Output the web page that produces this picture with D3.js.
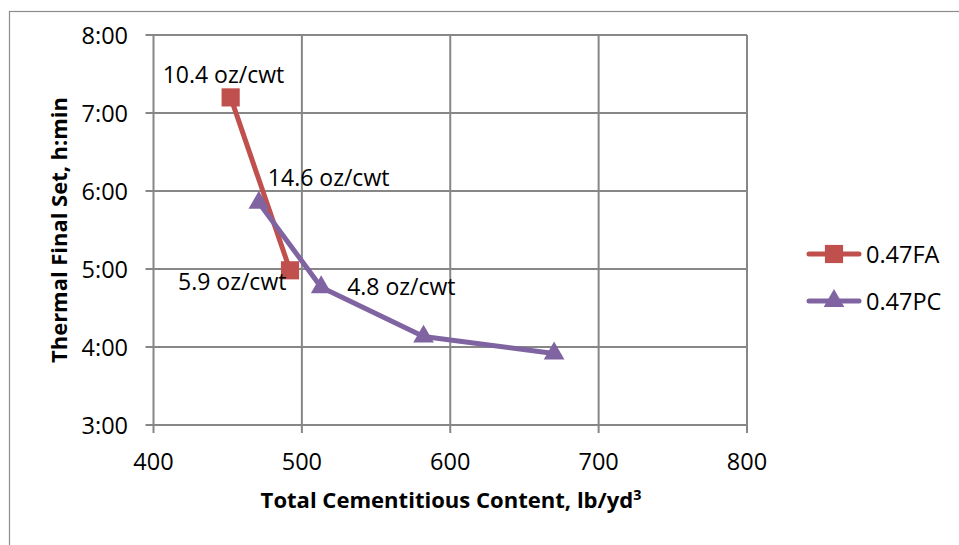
<!DOCTYPE html>
<html><head><meta charset="utf-8">
<script src="https://cdn.jsdelivr.net/npm/d3@7"></script>
<style>body{margin:0;background:#fff}svg{display:block}text{font-family:"Open Sans",sans-serif;fill:#000}</style>
</head><body><svg id="c" width="959" height="545"></svg>
<script>
const xTicks = [400, 500, 600, 700, 800];
const yTicks = ["3:00", "4:00", "5:00", "6:00", "7:00", "8:00"];
const faX = [452, 492];
const faY = ["7:12", "4:59"];
const pcX = [471, 513, 582, 670];
const pcY = ["5:51", "4:46", "4:08", "3:55"];
const seriesNames = ["0.47FA", "0.47PC"];
const labelTexts = ["10.4 oz/cwt", "5.9 oz/cwt", "14.6 oz/cwt", "4.8 oz/cwt"];

const toH = s => { const [h, m] = s.split(":").map(Number); return h + m / 60; };
const svg = d3.select("#c");
const x = d3.scaleLinear().domain([400, 800]).range([153.5, 747]);
const y = d3.scaleLinear().domain([3, 8]).range([425, 35]);

function fit(sel, w) {
  const fs = parseFloat(sel.attr("font-size"));
  const len = sel.node().getComputedTextLength();
  sel.attr("font-size", fs * w / len);
}

svg.append("rect").attr("x", 9.5).attr("y", 11.5).attr("width", 960).attr("height", 545)
  .attr("fill", "none").attr("stroke", "#8c8c8c").attr("stroke-width", 1.2);

// grid
const g = svg.append("g");
g.selectAll(".hg").data(yTicks).join("line")
  .attr("x1", x(400) - 8).attr("x2", x(800)).attr("y1", d => y(toH(d))).attr("y2", d => y(toH(d)))
  .attr("stroke", "#878787").attr("stroke-width", 2);
g.selectAll(".vg").data(xTicks).join("line")
  .attr("y1", y(8)).attr("y2", y(3) + 8).attr("x1", d => x(d)).attr("x2", d => x(d))
  .attr("stroke", "#878787").attr("stroke-width", 2);

g.selectAll(".yl").data(yTicks).join("text")
  .attr("x", 128).attr("y", d => y(toH(d)) + 9).attr("text-anchor", "end")
  .attr("font-size", 23.5).text(d => d);
g.selectAll(".xl").data(xTicks).join("text")
  .attr("x", d => x(d)).attr("y", 470).attr("text-anchor", "middle")
  .attr("font-size", 23.5).text(d => d);

const yt = svg.append("text").attr("transform", "translate(67,230) rotate(-90)").attr("text-anchor", "middle")
  .attr("font-size", 20).attr("font-weight", "bold").text("Thermal Final Set, h:min");
fit(yt, 266);
const xt = svg.append("text").attr("x", 451).attr("y", 508).attr("text-anchor", "middle")
  .attr("font-size", 20).attr("font-weight", "bold");
xt.append("tspan").text("Total Cementitious Content, lb/yd");
xt.append("tspan").attr("dy", -8).attr("font-size", "0.65em").text("3");
fit(xt, 381);

const colors = ["#C0504D", "#8064A2"];
const line = d3.line().x(d => x(d[0])).y(d => y(d[1]));
const fa = faX.map((v, i) => [v, toH(faY[i])]);
const pc = pcX.map((v, i) => [v, toH(pcY[i])]);

svg.append("path").attr("d", line(fa)).attr("fill", "none").attr("stroke", colors[0]).attr("stroke-width", 5).attr("stroke-linejoin", "round");
svg.append("path").attr("d", line(pc)).attr("fill", "none").attr("stroke", colors[1]).attr("stroke-width", 5).attr("stroke-linejoin", "round");

const sq = d3.symbol().type(d3.symbolSquare).size(330);
const tri = d3.symbol().type(d3.symbolTriangle).size(185);
svg.selectAll(".fa").data(fa).join("path").attr("d", sq)
  .attr("transform", d => `translate(${x(d[0])},${y(d[1])})`).attr("fill", colors[0]);
svg.selectAll(".pc").data(pc).join("path").attr("d", tri)
  .attr("transform", d => `translate(${x(d[0])},${y(d[1])})`).attr("fill", colors[1]);

// data labels
const labelPts = [fa[0], fa[1], pc[0], pc[1]];
const offs = [[-68, -14], [-112, 20], [9, -17], [26, 8]];
svg.selectAll(".dl").data(labelTexts).join("text")
  .attr("x", (d, i) => x(labelPts[i][0]) + offs[i][0])
  .attr("y", (d, i) => y(labelPts[i][1]) + offs[i][1])
  .attr("font-size", 23).text(d => d);

// legend
const leg = svg.append("g");
seriesNames.forEach((n, i) => {
  const ly = 254 + i * 47;
  leg.append("line").attr("x1", 809).attr("x2", 859).attr("y1", ly).attr("y2", ly)
    .attr("stroke", colors[i]).attr("stroke-width", 5).attr("stroke-linecap", "round");
  leg.append("path").attr("d", i === 0 ? sq : tri).attr("transform", `translate(834,${ly})`).attr("fill", colors[i]);
  leg.append("text").attr("x", 866).attr("y", ly + 8.5).attr("font-size", 23.5).text(n);
});
</script></body></html>
